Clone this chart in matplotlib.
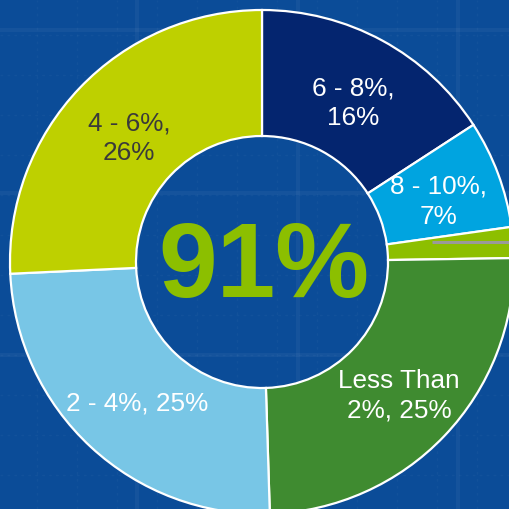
import numpy as np
import matplotlib
matplotlib.use("Agg")
import matplotlib.pyplot as plt

plt.rcParams['font.family'] = ['Liberation Sans', 'DejaVu Sans']

# rate bands and their share of the total
bands = ["6 - 8%", "8 - 10%", "> 10%", "Less Than\n2%", "2 - 4%", "4 - 6%"]
shares = [16, 7, 2, 25, 25, 26]
label_text = ["6 - 8%,\n16%", "8 - 10%,\n7%", "", "Less Than\n2%, 25%", "2 - 4%, 25%", "4 - 6%,\n26%"]
slice_colors = ["#04256f", "#00a4e0", "#8dbf00", "#3f8b30", "#78c6e6", "#bed000"]
text_colors = ["white", "white", "white", "white", "white", "#3a3a3a"]
headline = "91%"

W, H = 510, 509
bg = "#0b4c98"

fig = plt.figure(figsize=(W / 100, H / 100), dpi=100, facecolor=bg)
ax = fig.add_axes([0, 0, 1, 1])
ax.set_facecolor(bg)

# faint blueprint grid behind the ring
for gx in [137, 298, 458]:
    ax.axvline(gx, color="white", alpha=0.045, lw=3, zorder=0)
for gy in [30, 193, 355]:
    ax.axhline(H - gy, color="white", alpha=0.045, lw=3, zorder=0)
for gx in np.arange(-3, W, 40):
    ax.axvline(gx, color="white", alpha=0.03, lw=1, ls=(0, (2, 3)), zorder=0)
for gy in np.arange(-5, H, 40):
    ax.axhline(H - gy, color="white", alpha=0.03, lw=1, ls=(0, (2, 3)), zorder=0)

cx, cy, R = 262, H - 262, 252
wedges, _ = ax.pie(shares, colors=slice_colors, startangle=90, counterclock=False,
                   radius=R, center=(cx, cy),
                   wedgeprops=dict(width=126, edgecolor="white", linewidth=1.6),
                   frame=True)

for w, txt, tc in zip(wedges, label_text, text_colors):
    if txt:
        mid = np.deg2rad((w.theta1 + w.theta2) / 2)
        r = 0.74 * R
        ax.text(cx + r * np.cos(mid) + 2, cy + r * np.sin(mid) - 5, txt, ha="center", va="center",
                multialignment="center", fontsize=18.8, color=tc, linespacing=1.3)
    else:
        # leader line for the thin slice, running off to the right
        ang = np.deg2rad(w.theta1 + 0.8 * (w.theta2 - w.theta1))
        r = 0.68 * R
        x0, y0 = cx + r * np.cos(ang), cy + r * np.sin(ang)
        ax.plot([x0, W + 20], [y0, y0], color="#9a9a9a", lw=2.2, zorder=5,
                solid_capstyle="butt")

ax.text(cx + 2, cy - 8, headline, ha="center", va="center", fontsize=76,
        fontweight="bold", color="#8cbf00")

ax.set_xlim(0, W)
ax.set_ylim(0, H)
ax.set_aspect("equal")
ax.axis("off")

fig.savefig("out.png", dpi=100, facecolor=bg)
